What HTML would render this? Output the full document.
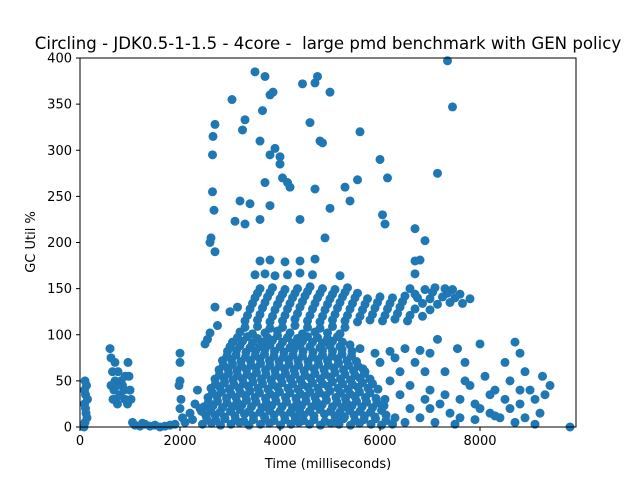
<!DOCTYPE html>
<html><head><meta charset="utf-8"><style>
html,body{margin:0;padding:0;background:#fff;}
svg{display:block;font-family:"DejaVu Sans","Liberation Sans",sans-serif;}
</style></head><body>
<svg id="chart" width="640" height="480">
<text x="328" y="49" text-anchor="middle" font-size="16.6" xml:space="preserve">Circling - JDK0.5-1-1.5 - 4core -  large pmd benchmark with GEN policy</text>
<g id="points"></g>
<rect x="80" y="58" width="496" height="369" fill="none" stroke="#000" stroke-width="1"/>
<g id="xticks"></g>
<g id="yticks"></g>
<text x="328" y="468" text-anchor="middle" font-size="13">Time (milliseconds)</text>
<text x="0" y="0" transform="translate(35,242) rotate(-90)" text-anchor="middle" font-size="13">GC Util %</text>
</svg>
<script>
const xTickValues=[0,2000,4000,6000,8000];
const yTickValues=[0,50,100,150,200,250,300,350,400];
const times=[100,120,90,110,130,100,150,140,80,110,90,
600,620,650,700,680,720,750,800,850,900,950,1000,980,700,760,820,880,1020,620,660,740,900,960,
1100,1200,1300,1400,1500,1600,1700,1800,1900,1050,1250,
2000,2000,2000,1980,2020,2000,2050,2100,2200,2300,2250,2400,2350,
2450,2630,2810,3020,3190,3380,3610,3790,4010,4220,4380,4590,4810,5020,5180,5410,5590,5820,6030,6250,
2520,2700,2890,3100,3290,3470,3690,3880,4090,4300,4470,4680,4890,5100,5290,5480,5690,5900,6120,
2480,2660,2850,3050,3240,3430,3640,3830,4040,4250,4430,4640,4840,5050,5240,5440,5640,5850,6080,
2560,2740,2930,3120,3310,3500,3710,3900,4110,4320,4510,4700,4910,5120,5310,5500,5710,5920,
2620,2800,2990,3180,3370,3560,3760,3950,4160,4360,4560,4760,4960,5160,5360,5560,5760,5960,
2700,2880,3060,3250,3440,3630,3820,4020,4210,4410,4610,4810,5010,5210,5410,5600,5800,
2780,2960,3140,3330,3520,3710,3900,4090,4280,4480,4680,4880,5080,5270,5470,5660,
2850,3030,3220,3410,3600,3790,3980,4170,4360,4560,4760,4950,5150,5340,5530,
2950,3130,3320,3510,3700,3890,4080,4270,4460,4660,4850,5050,5240,5440,
3050,3250,3450,3650,3850,4050,4250,4450,4650,4850,5050,5250,
2600,3200,3450,3700,3950,4200,4450,4700,4950,5200,
3300,3550,3800,4050,4300,4550,4800,5050,5300,5550,5800,6050,6300,6550,
3400,3650,3900,4150,4400,4650,4900,5150,5400,5650,5900,6150,6400,6700,7000,
3500,3750,4000,4250,4500,4750,5000,5250,5500,5750,6000,6250,6500,6750,7000,7250,7500,7800,
3600,3850,4100,4350,4600,4850,5100,5350,6600,6900,7100,7300,7450,
3500,3700,3900,4150,4400,4650,5200,6700,
3600,3800,4100,4400,4700,6800,
5600,5900,6200,6500,6800,7000,6300,6000,5700,
6200,6400,6600,6800,7000,7200,7400,7600,7800,8000,8200,8400,8600,8800,9000,9200,9400,7300,7700,8100,8500,8900,9250,7100,7500,7900,8300,8700,9100,8000,8700,8800,7550,7150,6900,6600,6300,6100,9800,
2600,2620,2650,2680,2700,2650,2660,2700,3040,3250,3300,3500,3650,3700,3800,3860,3900,4000,4000,4050,4150,4450,4600,4700,4750,4800,4850,5000,5000,5300,5400,5600,5550,6000,6050,6100,6150,7350,7450,7150,3100,3300,3200,3400,3600,3700,3800,4200,4700,4400,4900,6700,6900,6700,3600,3800,2550,2500,3150,2700,2750,3000,
2540,2720,2900,3110,3280,3470,3700,3880,4100,4310,4470,4680,4900,5110,5270,5500,5680,5910,6120,
2430,2610,2800,3010,3200,3380,3600,3790,4000,4210,4390,4590,4800,5010,5200,5390,5600,5810,6030,
2570,2750,2940,3140,3330,3520,3730,3920,4130,4340,4520,4730,4930,5140,5330,5530,5730,5940,
2650,2830,3020,3210,3400,3590,3800,3990,4200,4410,4600,4790,5000,5210,5400,5590,5800,
2710,2890,3080,3270,3460,3650,3850,4040,4250,4450,4650,4850,5050,5250,5450,5650,5850,
2790,2970,3150,3340,3530,3720,3910,4110,4300,4500,4700,4900,5100,5300,5500,5690,
2870,3050,3230,3420,3610,3800,3990,4180,4370,4570,4770,4970,5170,5370,5560,
2940,3120,3310,3500,3690,3880,4070,4260,4450,4650,4850,5040,5240,5430,
3000,3200,3400,3600,3800,4000,4200,4400,4600,4800,5000,5200,5400,
3150,3350,3550,3750,3950,4150,4350,4550,4750,4950,5150,
3300,3550,3800,4050,4300,4550,4800,5050,5300,
3350,3600,3850,4100,4350,4600,4850,5100,5350,5600,5850,6100,6350,6600,6850,
3450,3700,3950,4200,4450,4700,4950,5200,5450,5700,5950,6200,6450,6850,7150,7400,7650,
3550,3800,4050,4300,4550,4800,5050,5300,5550,6700,7050,7350,7600,
6400,6700,7000,7300,7600,7900,8200,8500,8800,9100,6500,6900,7700,8300,8600,8900,9300];
const utils=[5,15,25,35,45,50,30,10,0,20,40,
85,75,60,50,40,30,25,35,45,30,25,40,55,70,60,50,40,30,45,30,45,55,70,
2,1,3,1,2,0,1,2,3,5,4,
80,70,50,45,30,20,10,5,15,25,8,20,40,
3,4,2,3,5,2,3,4,2,3,5,3,2,4,3,2,4,3,2,3,
12,13,11,12,14,12,11,13,12,11,13,12,14,12,11,13,12,11,13,
22,23,21,22,24,22,21,23,22,21,23,22,24,22,21,23,22,21,23,
32,33,31,32,34,32,31,33,32,31,33,32,34,32,31,33,32,31,
42,43,41,42,44,42,41,43,42,41,43,42,44,42,41,43,42,41,
52,53,51,52,54,52,51,53,52,51,53,52,54,52,51,53,52,
62,63,61,62,64,62,61,63,62,61,63,62,64,62,61,63,
72,73,71,72,74,72,71,73,72,71,73,72,74,72,71,
82,83,81,82,84,82,81,83,82,81,83,82,84,82,
92,93,91,92,94,92,91,93,92,91,93,92,
102,103,101,102,104,102,101,103,102,101,
115,116,114,115,117,115,114,116,115,114,116,115,117,115,
128,129,127,128,130,128,127,129,128,127,129,128,130,128,127,
140,141,139,140,142,140,139,141,140,139,141,140,142,140,139,141,140,139,
150,151,149,150,152,150,149,151,150,149,151,150,149,
165,166,164,165,167,165,164,166,
180,181,179,180,182,181,
85,80,82,85,83,80,75,70,60,
50,35,20,10,40,25,15,30,45,20,35,10,50,25,40,15,45,60,70,55,70,60,55,5,3,8,12,5,3,90,92,80,85,95,60,45,10,30,0,
200,205,255,235,190,295,315,328,355,322,333,385,343,380,360,363,302,293,285,270,265,372,330,373,380,310,308,363,237,260,245,320,268,290,230,220,270,397,347,275,223,220,245,242,225,265,240,260,258,225,205,215,202,180,310,295,95,90,130,130,110,125,
8,7,9,8,6,8,9,7,8,9,7,8,6,8,9,7,8,9,7,
17,18,16,17,19,17,16,18,17,16,18,17,19,17,16,18,17,16,18,
27,28,26,27,29,27,26,28,27,26,28,27,29,27,26,28,27,26,
37,38,36,37,39,37,36,38,37,36,38,37,39,37,36,38,37,
47,48,46,47,49,47,46,48,47,46,48,47,49,47,46,48,47,
57,58,56,57,59,57,56,58,57,56,58,57,59,57,56,58,
67,68,66,67,69,67,66,68,67,66,68,67,69,67,66,
77,78,76,77,79,77,76,78,77,76,78,77,79,77,
87,88,86,87,89,87,86,88,87,86,88,87,89,
97,98,96,97,99,97,96,98,97,96,98,
108,109,107,108,110,108,107,109,108,
121,122,120,121,123,121,120,122,121,120,122,121,123,121,120,
134,135,133,134,136,134,133,135,134,133,135,134,136,134,133,135,134,
145,146,144,145,147,145,144,146,145,144,146,145,144,
60,70,20,35,10,25,15,30,40,30,5,30,50,40,20,10,35];
function xScale(v){return 80+(v/9920)*496;}
function yScale(v){return 427-(v/400)*369;}
const NS='http://www.w3.org/2000/svg';
const gp=document.getElementById('points');
for(let i=0;i<times.length;i++){
  const c=document.createElementNS(NS,'circle');
  c.setAttribute('cx',xScale(times[i]));
  c.setAttribute('cy',yScale(utils[i]));
  c.setAttribute('r',4.5);
  c.setAttribute('fill','#1f77b4');
  
  
  gp.appendChild(c);
}
const gx=document.getElementById('xticks');
xTickValues.forEach(v=>{
  const x=xScale(v);
  const l=document.createElementNS(NS,'line');
  l.setAttribute('x1',x);l.setAttribute('x2',x);l.setAttribute('y1',427);l.setAttribute('y2',431);l.setAttribute('stroke','#000');
  
  
  gx.appendChild(l);
  const t=document.createElementNS(NS,'text');
  t.setAttribute('x',x);t.setAttribute('y',445);t.setAttribute('text-anchor','middle');t.setAttribute('font-size','13');
  t.textContent=v;
  
  
  gx.appendChild(t);
});
const gy=document.getElementById('yticks');
yTickValues.forEach(v=>{
  const y=yScale(v);
  const l=document.createElementNS(NS,'line');
  l.setAttribute('x1',76);l.setAttribute('x2',80);l.setAttribute('y1',y);l.setAttribute('y2',y);l.setAttribute('stroke','#000');
  
  
  gy.appendChild(l);
  const t=document.createElementNS(NS,'text');
  t.setAttribute('x',72);t.setAttribute('y',y+4.5);t.setAttribute('text-anchor','end');t.setAttribute('font-size','13');
  t.textContent=v;
  
  
  gy.appendChild(t);
});
</script>
</body></html>
